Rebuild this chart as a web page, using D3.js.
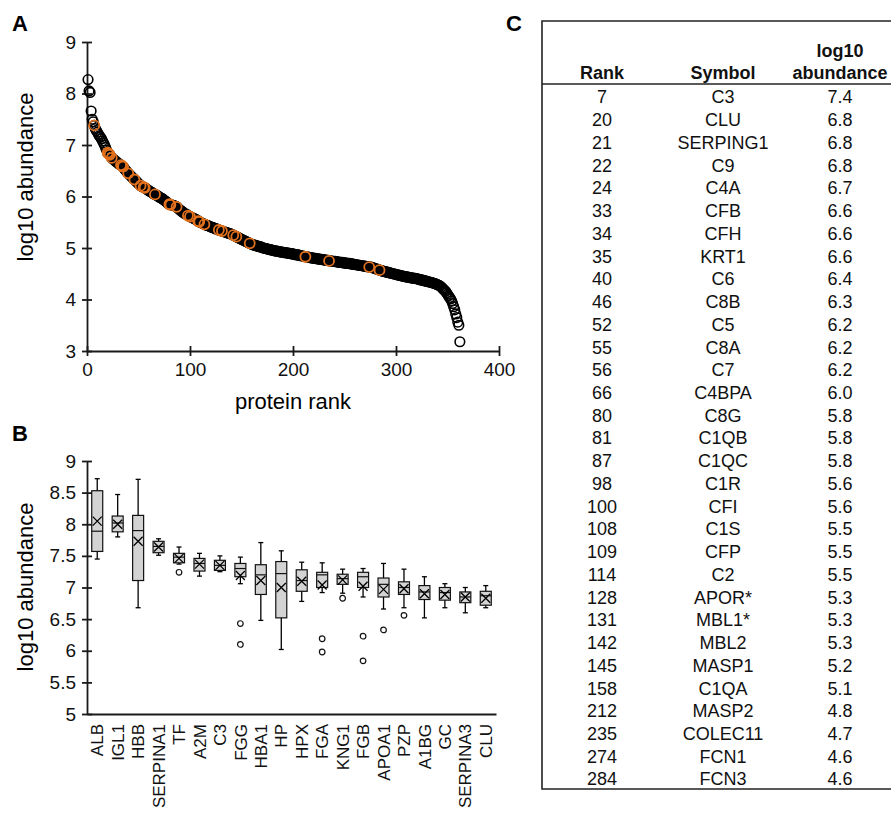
<!DOCTYPE html>
<html>
<head>
<meta charset="utf-8">
<script src="https://cdn.jsdelivr.net/npm/d3@7"></script>
<style>
  body { margin: 0; background: #fff; }
  svg { font-family: "Liberation Sans", Arial, sans-serif; }
</style>
</head>
<body>
<svg id="fig" width="891" height="818"></svg>
<script>
// ---- panel A: log10 abundance by protein rank (rank = index + 1)
var rankValues = [
  8.27, 8.05, 8.02, 7.66, 7.50, 7.45, 7.38, 7.32, 7.28, 7.25,
  7.21, 7.18, 7.15, 7.12, 7.08, 7.04, 7.00, 6.95, 6.90, 6.85,
  6.83, 6.81, 6.78, 6.75, 6.73, 6.72, 6.70, 6.68, 6.67, 6.65,
  6.63, 6.62, 6.61, 6.59, 6.58, 6.55, 6.52, 6.50, 6.47, 6.45,
  6.43, 6.41, 6.39, 6.37, 6.35, 6.33, 6.31, 6.29, 6.27, 6.25,
  6.23, 6.21, 6.20, 6.19, 6.18, 6.17, 6.16, 6.14, 6.13, 6.11,
  6.10, 6.09, 6.08, 6.06, 6.05, 6.04, 6.03, 6.02, 6.01, 5.99,
  5.98, 5.97, 5.96, 5.94, 5.93, 5.91, 5.90, 5.88, 5.86, 5.85,
  5.84, 5.84, 5.83, 5.83, 5.82, 5.81, 5.80, 5.78, 5.76, 5.74,
  5.73, 5.71, 5.70, 5.68, 5.67, 5.66, 5.65, 5.63, 5.62, 5.61,
  5.60, 5.59, 5.58, 5.57, 5.56, 5.55, 5.54, 5.52, 5.51, 5.50,
  5.49, 5.48, 5.47, 5.46, 5.45, 5.44, 5.44, 5.43, 5.42, 5.41,
  5.40, 5.40, 5.39, 5.38, 5.37, 5.37, 5.36, 5.35, 5.34, 5.34,
  5.33, 5.32, 5.32, 5.31, 5.30, 5.30, 5.29, 5.28, 5.28, 5.27,
  5.26, 5.25, 5.24, 5.23, 5.22, 5.21, 5.20, 5.19, 5.18, 5.17,
  5.16, 5.15, 5.14, 5.13, 5.12, 5.11, 5.10, 5.09, 5.08, 5.07,
  5.06, 5.06, 5.05, 5.05, 5.04, 5.03, 5.03, 5.02, 5.02, 5.01,
  5.00, 5.00, 4.99, 4.99, 4.98, 4.98, 4.97, 4.97, 4.96, 4.96,
  4.95, 4.95, 4.94, 4.94, 4.94, 4.93, 4.93, 4.92, 4.92, 4.92,
  4.91, 4.91, 4.91, 4.90, 4.90, 4.90, 4.89, 4.89, 4.89, 4.88,
  4.88, 4.87, 4.87, 4.87, 4.86, 4.86, 4.85, 4.85, 4.85, 4.84,
  4.84, 4.83, 4.83, 4.83, 4.82, 4.82, 4.81, 4.81, 4.81, 4.80,
  4.80, 4.80, 4.79, 4.79, 4.79, 4.78, 4.78, 4.78, 4.77, 4.77,
  4.77, 4.76, 4.76, 4.76, 4.75, 4.75, 4.75, 4.74, 4.74, 4.74,
  4.74, 4.73, 4.73, 4.73, 4.72, 4.72, 4.72, 4.72, 4.71, 4.71,
  4.71, 4.70, 4.70, 4.70, 4.70, 4.69, 4.69, 4.69, 4.68, 4.68,
  4.68, 4.67, 4.67, 4.67, 4.66, 4.66, 4.66, 4.65, 4.65, 4.65,
  4.64, 4.64, 4.64, 4.63, 4.63, 4.63, 4.62, 4.61, 4.61, 4.60,
  4.59, 4.59, 4.58, 4.57, 4.56, 4.56, 4.55, 4.55, 4.54, 4.54,
  4.53, 4.53, 4.52, 4.52, 4.51, 4.51, 4.50, 4.50, 4.49, 4.49,
  4.48, 4.48, 4.47, 4.47, 4.46, 4.46, 4.45, 4.45, 4.44, 4.44,
  4.44, 4.43, 4.43, 4.42, 4.42, 4.42, 4.41, 4.41, 4.41, 4.40,
  4.40, 4.39, 4.39, 4.38, 4.38, 4.37, 4.37, 4.36, 4.36, 4.35,
  4.35, 4.34, 4.34, 4.33, 4.33, 4.32, 4.31, 4.31, 4.30, 4.29,
  4.28, 4.27, 4.26, 4.24, 4.22, 4.20, 4.18, 4.16, 4.13, 4.10,
  4.07, 4.04, 4.01, 3.97, 3.92, 3.86, 3.80, 3.72, 3.65, 3.56,
  3.50, 3.18
];
var rankTicks = [0, 100, 200, 300, 400];
var abundTicksA = [3, 4, 5, 6, 7, 8, 9];

// ---- panel C: complement-related proteins (also highlighted in A)
var tableRank = [7, 20, 21, 22, 24, 33, 34, 35, 40, 46, 52, 55, 56, 66, 80, 81, 87, 98, 100,
                 108, 109, 114, 128, 131, 142, 145, 158, 212, 235, 274, 284];
var tableSymbol = ["C3", "CLU", "SERPING1", "C9", "C4A", "CFB", "CFH", "KRT1", "C6", "C8B", "C5",
                   "C8A", "C7", "C4BPA", "C8G", "C1QB", "C1QC", "C1R", "CFI", "C1S", "CFP", "C2",
                   "APOR*", "MBL1*", "MBL2", "MASP1", "C1QA", "MASP2", "COLEC11", "FCN1", "FCN3"];
var tableValue = ["7.4", "6.8", "6.8", "6.8", "6.7", "6.6", "6.6", "6.6", "6.4", "6.3", "6.2",
                  "6.2", "6.2", "6.0", "5.8", "5.8", "5.8", "5.6", "5.6", "5.5", "5.5", "5.5",
                  "5.3", "5.3", "5.3", "5.2", "5.1", "4.8", "4.7", "4.6", "4.6"];

// ---- panel B: box plots of top proteins
var boxNames = ["ALB", "IGL1", "HBB", "SERPINA1", "TF", "A2M", "C3", "FGG", "HBA1", "HP",
                "HPX", "FGA", "KNG1", "FGB", "APOA1", "PZP", "A1BG", "GC", "SERPINA3", "CLU"];
var boxLow    = [7.45, 7.80, 6.68, 7.51, 7.37, 7.18, 7.25, 7.06, 6.48, 6.02,
                 6.78, 6.92, 6.91, 6.85, 6.66, 6.68, 6.52, 6.68, 6.60, 6.68];
var boxQ1     = [7.57, 7.88, 7.11, 7.55, 7.39, 7.26, 7.27, 7.17, 6.89, 6.52,
                 6.94, 7.00, 7.05, 7.00, 6.85, 6.89, 6.81, 6.80, 6.76, 6.72];
var boxMedian = [7.89, 8.02, 7.90, 7.65, 7.48, 7.38, 7.35, 7.30, 7.20, 7.22,
                 7.11, 7.20, 7.14, 7.17, 7.05, 7.00, 6.93, 6.92, 6.85, 6.87];
var boxQ3     = [8.53, 8.13, 8.14, 7.73, 7.54, 7.46, 7.43, 7.38, 7.36, 7.41,
                 7.28, 7.24, 7.21, 7.24, 7.15, 7.09, 7.03, 7.00, 6.93, 6.94];
var boxHigh   = [8.72, 8.47, 8.71, 7.77, 7.64, 7.54, 7.50, 7.48, 7.71, 7.58,
                 7.40, 7.39, 7.29, 7.30, 7.38, 7.29, 7.17, 7.06, 7.00, 7.03];
var boxMean   = [8.05, 8.00, 7.73, 7.64, 7.46, 7.37, 7.35, 7.19, 7.11, 7.00,
                 7.10, 7.04, 7.12, 7.02, 6.97, 6.98, 6.90, 6.89, 6.85, 6.83];
var boxOutliers = [[], [], [], [], [7.24], [], [], [6.43, 6.10], [], [],
                   [], [6.19, 5.98], [6.83], [6.23, 5.84], [6.33], [6.56], [], [], [], []];
var abundTicksB = [5, 5.5, 6, 6.5, 7, 7.5, 8, 8.5, 9];

var svg = d3.select("#fig");
var ink = "#1a1a1a";
var orange = "#e2711d";

function styleAxis(g) {
    g.select(".domain").attr("stroke", ink).attr("stroke-width", 1.8);
    g.selectAll(".tick line").attr("stroke", ink).attr("stroke-width", 1.8);
    g.selectAll(".tick text").attr("fill", "#111").attr("font-size", 19);
}

// panel letters
svg.append("text").attr("x", 12).attr("y", 31).text("A")
    .attr("font-weight", "bold").attr("font-size", 22);
svg.append("text").attr("x", 12).attr("y", 441).text("B")
    .attr("font-weight", "bold").attr("font-size", 22);
svg.append("text").attr("x", 506).attr("y", 31).text("C")
    .attr("font-weight", "bold").attr("font-size", 22);

// ================= A =================
var xA = d3.scaleLinear().domain([0, 400]).range([87, 499]);
var yA = d3.scaleLinear().domain([3, 9]).range([351, 42]);

var gAy = svg.append("g").attr("transform", "translate(87,0)")
    .call(d3.axisLeft(yA).tickValues(abundTicksA).tickFormat(d3.format("d"))
        .tickSize(5).tickSizeOuter(0).tickPadding(6));
gAy.selectAll(".tick line").attr("x1", 5).attr("x2", -5);
styleAxis(gAy);

var gAx = svg.append("g").attr("transform", "translate(0,351)")
    .call(d3.axisBottom(xA).tickValues(rankTicks).tickFormat(d3.format("d"))
        .tickSize(5).tickSizeOuter(0).tickPadding(7));
gAx.selectAll(".tick line").attr("y1", -5).attr("y2", 5);
styleAxis(gAx);

svg.append("text").attr("x", 293).attr("y", 409).attr("text-anchor", "middle")
    .attr("font-size", 22).text("protein rank");
svg.append("text").attr("transform", "translate(33,177) rotate(-90)")
    .attr("text-anchor", "middle").attr("font-size", 22).text("log10 abundance");

var gA = svg.append("g");
gA.selectAll("circle.pt").data(rankValues).enter().append("circle")
    .attr("class", "pt")
    .attr("cx", function(d, i) { return xA(i + 1); })
    .attr("cy", function(d) { return yA(d); })
    .attr("r", 4.8)
    .attr("fill", "none").attr("stroke", "#000").attr("stroke-width", 1.6);

gA.selectAll("circle.hl").data(tableRank).enter().append("circle")
    .attr("class", "hl")
    .attr("cx", function(d) { return xA(d); })
    .attr("cy", function(d) { return yA(rankValues[d - 1]); })
    .attr("r", 5)
    .attr("fill", "none").attr("stroke", orange).attr("stroke-width", 1.8);

// ================= B =================
var xB = d3.scaleBand().domain(boxNames).range([87, 496]);
var yB = d3.scaleLinear().domain([5, 9]).range([714, 461]);

var gBy = svg.append("g").attr("transform", "translate(87,0)")
    .call(d3.axisLeft(yB).tickValues(abundTicksB).tickSize(5).tickSizeOuter(0).tickPadding(6)
        .tickFormat(function(d) { return d % 1 ? d.toFixed(1) : d; }));
gBy.selectAll(".tick line").attr("x1", 5).attr("x2", -5);
styleAxis(gBy);

var gBx = svg.append("g").attr("transform", "translate(0,714)")
    .call(d3.axisBottom(xB).tickSize(0).tickSizeOuter(0));
styleAxis(gBx);
gBx.selectAll(".tick text")
    .attr("transform", "rotate(-90)")
    .attr("text-anchor", "end")
    .attr("x", -10).attr("y", 0).attr("dy", "0.36em")
    .attr("font-size", 17);

svg.append("text").attr("transform", "translate(33,587) rotate(-90)")
    .attr("text-anchor", "middle").attr("font-size", 22).text("log10 abundance");

var bw = 11, cap = 2.5, xs = 4.5;
var boxes = svg.append("g").selectAll("g").data(boxNames).enter().append("g")
    .attr("transform", function(d) { return "translate(" + (xB(d) + xB.bandwidth() / 2) + ",0)"; });

boxes.append("line")
    .attr("y1", function(d, i) { return yB(boxLow[i]); })
    .attr("y2", function(d, i) { return yB(boxHigh[i]); })
    .attr("stroke", "#000").attr("stroke-width", 1.3);
boxes.append("line").attr("x1", -cap).attr("x2", cap)
    .attr("y1", function(d, i) { return yB(boxHigh[i]); })
    .attr("y2", function(d, i) { return yB(boxHigh[i]); })
    .attr("stroke", "#000").attr("stroke-width", 1.3);
boxes.append("line").attr("x1", -cap).attr("x2", cap)
    .attr("y1", function(d, i) { return yB(boxLow[i]); })
    .attr("y2", function(d, i) { return yB(boxLow[i]); })
    .attr("stroke", "#000").attr("stroke-width", 1.3);
boxes.append("rect")
    .attr("x", -bw / 2).attr("width", bw)
    .attr("y", function(d, i) { return yB(boxQ3[i]); })
    .attr("height", function(d, i) { return yB(boxQ1[i]) - yB(boxQ3[i]); })
    .attr("fill", "#d3d3d3").attr("stroke", "#111").attr("stroke-width", 1.2);
boxes.append("line").attr("x1", -bw / 2).attr("x2", bw / 2)
    .attr("y1", function(d, i) { return yB(boxMedian[i]); })
    .attr("y2", function(d, i) { return yB(boxMedian[i]); })
    .attr("stroke", "#111").attr("stroke-width", 1.2);
boxes.append("path")
    .attr("d", function(d, i) {
        var y = yB(boxMean[i]);
        return "M" + (-xs) + "," + (y - xs) + "L" + xs + "," + (y + xs) +
               "M" + (-xs) + "," + (y + xs) + "L" + xs + "," + (y - xs);
    })
    .attr("stroke", "#000").attr("stroke-width", 1.3).attr("fill", "none");
boxes.selectAll("circle").data(function(d, i) { return boxOutliers[i]; }).enter().append("circle")
    .attr("cy", function(v) { return yB(v); })
    .attr("r", 2.8)
    .attr("fill", "#fff").attr("stroke", "#111").attr("stroke-width", 1.2);

// ================= C =================
var tLeft = 542, tTop = 21, tBottom = 789, tRight = 893;
var colRank = 602, colSym = 723, colVal = 840;
var rowY = d3.scaleLinear().domain([0, tableRank.length - 1]).range([97, 779]);

var gC = svg.append("g").attr("font-size", 18).attr("fill", "#111");
gC.append("path")
    .attr("d", "M" + tRight + "," + tTop + "H" + tLeft + "V" + tBottom + "H" + tRight)
    .attr("fill", "none").attr("stroke", "#222").attr("stroke-width", 1.6);
gC.append("line").attr("x1", tLeft).attr("x2", tRight).attr("y1", 84).attr("y2", 84)
    .attr("stroke", "#222").attr("stroke-width", 1.6);

var hdr = gC.append("g").attr("font-weight", "bold").attr("text-anchor", "middle");
hdr.append("text").attr("x", colRank).attr("y", 79).text("Rank");
hdr.append("text").attr("x", colSym).attr("y", 79).text("Symbol");
hdr.append("text").attr("x", colVal).attr("y", 57).text("log10");
hdr.append("text").attr("x", colVal).attr("y", 79).text("abundance");

var rows = gC.selectAll("g.row").data(tableRank).enter().append("g")
    .attr("class", "row").attr("text-anchor", "middle")
    .attr("transform", function(d, i) { return "translate(0," + rowY(i) + ")"; });
rows.append("text").attr("x", colRank).attr("dy", "0.36em").text(function(d) { return d; });
rows.append("text").attr("x", colSym).attr("dy", "0.36em").text(function(d, i) { return tableSymbol[i]; });
rows.append("text").attr("x", colVal).attr("dy", "0.36em").text(function(d, i) { return tableValue[i]; });
</script>
</body>
</html>
